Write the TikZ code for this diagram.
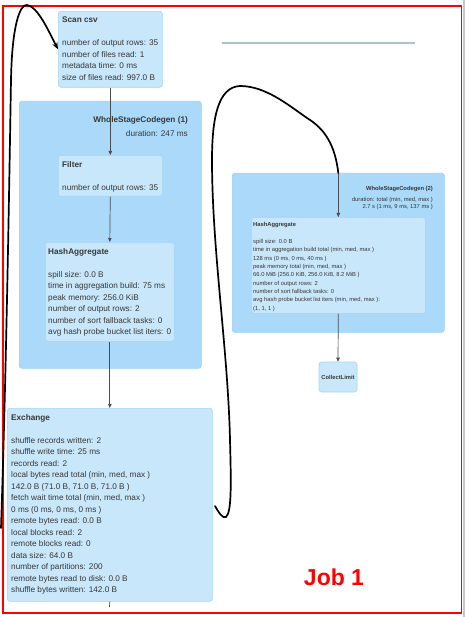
\documentclass[tikz,border=0pt]{standalone}
\usepackage{fontspec}
\setmainfont{Liberation Sans}
\usetikzlibrary{arrows.meta}

\definecolor{nodefill}{RGB}{200,231,251}
\definecolor{nodeedge}{RGB}{165,212,245}
\definecolor{clusterfill}{RGB}{170,217,249}
\definecolor{clusteredge}{RGB}{155,207,245}
\definecolor{txtgray}{RGB}{55,55,55}
\definecolor{slate}{RGB}{176,192,212}

\newcommand{\bigtxt}{\fontsize{8.2}{11.5}\selectfont}
\newcommand{\smalltxt}{\fontsize{5.8}{8.35}\selectfont}

\begin{document}
\begin{tikzpicture}[
        x=1pt, y=-1pt,
        opbox/.style={
            rectangle,
            rounded corners=2.5pt,
            draw=nodeedge,
            fill=nodefill,
            line width=0.6pt,
            anchor=north west,
            inner sep=0pt
        },
        stagebox/.style={opbox, draw=clusteredge, fill=clusterfill},
        info/.style={anchor=north west, align=left, inner sep=0pt, text=txtgray, font=\bigtxt},
        smallinfo/.style={info, font=\smalltxt},
        flow/.style={draw=black!70, line width=0.7pt, -{Triangle[length=4pt,width=3.5pt]}},
        sketch/.style={black, line width=1.7pt, line cap=round}
    ]
    \useasboundingbox (0,0) rectangle (465,617);

    % Marco
    \draw[red, line width=1.6pt] (3,6) rectangle (461.5,613);
    \fill[black!22] (463,0) rectangle (465,617);
    \draw[slate, line width=1.6pt] (222,43) -- (415,43);

    % Etapas
    \node[stagebox, minimum width=182pt, minimum height=267pt] (wscg1) at (19,101) {};
    \node[stagebox, minimum width=212pt, minimum height=159pt] (wscg2) at (232,173) {};
    \node[info, anchor=north east, font=\bigtxt\bfseries] (wscg1title) at (188,116) {WholeStageCodegen (1)};
    \node[info, anchor=north east] (wscg1dur) at (188,130.5) {duration: 247 ms};
    \node[smallinfo, anchor=north east, font=\smalltxt\bfseries] (wscg2title) at (433,186) {WholeStageCodegen (2)};
    \node[smallinfo, anchor=north east, align=right, font=\fontsize{5.8}{6.6}\selectfont] (wscg2dur) at (433,197) {duration: total (min, med, max )\\2.7 s (1 ms, 9 ms, 137 ms )};

    % Operadores
    \node[opbox, minimum width=104pt, minimum height=76pt] (scan) at (58,11) {};
    \node[opbox, minimum width=104pt, minimum height=41pt] (filter) at (58,155) {};
    \node[opbox, minimum width=129pt, minimum height=99pt] (agg1) at (45,242) {};
    \node[opbox, minimum width=205pt, minimum height=193pt] (exch) at (7,408) {};
    \node[opbox, minimum width=174pt, minimum height=96pt] (agg2) at (251,217) {};
    \node[opbox, anchor=center, minimum width=38pt, minimum height=30pt,
          font=\smalltxt\bfseries, text=txtgray] (collect) at (338,377) {CollectLimit};

    % Textos
    \node[info] (scantxt) at (62,17) {\textbf{Scan csv}\\[11.5pt]
        number of output rows: 35\\
        number of files read: 1\\
        metadata time: 0 ms\\
        size of files read: 997.0 B};
    \node[info] (filtertxt) at (62,161) {\textbf{Filter}\\[11.5pt]
        number of output rows: 35};
    \node[info] (agg1txt) at (48,248) {\textbf{HashAggregate}\\[11.5pt]
        spill size: 0.0 B\\
        time in aggregation build: 75 ms\\
        peak memory: 256.0 KiB\\
        number of output rows: 2\\
        number of sort fallback tasks: 0\\
        avg hash probe bucket list iters: 0};
    \node[info] (exchtxt) at (11,414) {\textbf{Exchange}\\[11.5pt]
        shuffle records written: 2\\
        shuffle write time: 25 ms\\
        records read: 2\\
        local bytes read total (min, med, max )\\
        142.0 B (71.0 B, 71.0 B, 71.0 B )\\
        fetch wait time total (min, med, max )\\
        0 ms (0 ms, 0 ms, 0 ms )\\
        remote bytes read: 0.0 B\\
        local blocks read: 2\\
        remote blocks read: 0\\
        data size: 64.0 B\\
        number of partitions: 200\\
        remote bytes read to disk: 0.0 B\\
        shuffle bytes written: 142.0 B};
    \node[smallinfo] (agg2txt) at (253,222.3) {\textbf{HashAggregate}\\[8.35pt]
        spill size: 0.0 B\\
        time in aggregation build total (min, med, max )\\
        128 ms (0 ms, 0 ms, 40 ms )\\
        peak memory total (min, med, max )\\
        66.0 MiB (256.0 KiB, 256.0 KiB, 8.2 MiB )\\
        number of output rows: 2\\
        number of sort fallback tasks: 0\\
        avg hash probe bucket list iters (min, med, max ):\\
        (1, 1, 1 )};

    \node[text=red, font=\bfseries\fontsize{23}{23}\selectfont] (job) at (334,577.5) {Job 1};

    % Aristas
    \coordinate (stub) at (109.5,607);
    \draw[flow] (scan.south) -- (filter.north);
    \draw[flow] (filter.south) -- (agg1.north);
    \draw[flow] (agg1.south) -- (exch.north);
    \draw[draw=black!70, line width=0.7pt] (exch.south) -- (stub);
    \draw[flow] (wscg2.north) -- (agg2.north);
    \draw[flow] (agg2.south) -- (collect.north);

    % Trazos a mano
    \coordinate (leftstart) at (1,528);
    \coordinate (hook) at (215,506);
    \draw[sketch, -{Stealth[length=7pt,width=5.5pt]}] (leftstart)
        .. controls (6,380) and (9,200) .. (11,80)
        .. controls (12,25) and (20,4) .. (27,5)
        .. controls (38,7) and (48,30) .. (scan.west);
    \draw[sketch] (hook)
        .. controls (219,513) and (223,519) .. (226,517)
        .. controls (232,512) and (231,480) .. (230,440)
        .. controls (228,350) and (212,250) .. (212,160)
        .. controls (212,118) and (218,87) .. (240,86)
        .. controls (265,86) and (287,104) .. (307,118)
        .. controls (325,129) and (335,145) .. (wscg2.north);

\end{tikzpicture}
\end{document}
